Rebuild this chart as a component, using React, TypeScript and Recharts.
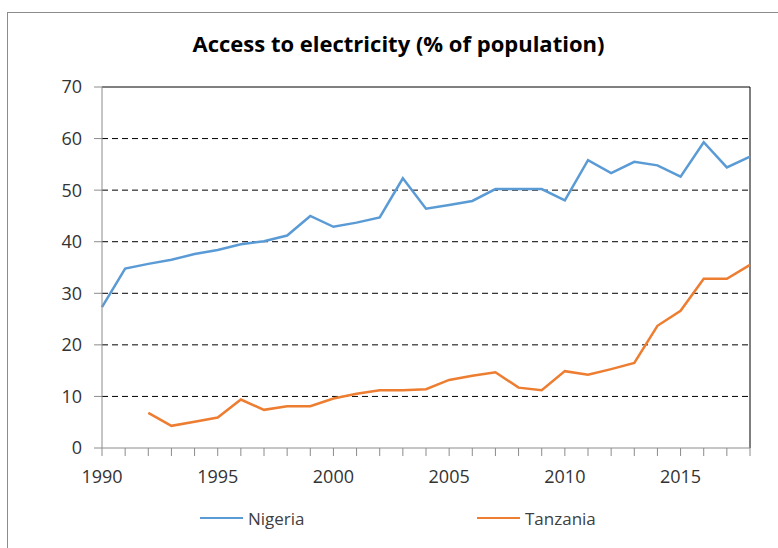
import React from 'react';
import {
  LineChart,
  Line,
  XAxis,
  YAxis,
  CartesianGrid,
  Legend,
  ReferenceLine,
} from 'recharts';

const years = [
  1990, 1991, 1992, 1993, 1994, 1995, 1996, 1997, 1998, 1999,
  2000, 2001, 2002, 2003, 2004, 2005, 2006, 2007, 2008, 2009,
  2010, 2011, 2012, 2013, 2014, 2015, 2016, 2017, 2018,
];

const nigeria = [
  27.3, 34.8, 35.7, 36.5, 37.6, 38.4, 39.5, 40.1, 41.2, 45.0,
  42.9, 43.7, 44.7, 52.3, 46.4, 47.1, 47.9, 50.2, 50.2, 50.2,
  48.0, 55.8, 53.3, 55.5, 54.8, 52.6, 59.3, 54.4, 56.5,
];

const tanzania = [
  null, null, 6.8, 4.3, 5.1, 5.9, 9.4, 7.4, 8.1, 8.1,
  9.6, 10.5, 11.2, 11.2, 11.4, 13.2, 14.0, 14.7, 11.7, 11.2,
  14.9, 14.2, 15.3, 16.5, 23.7, 26.6, 32.8, 32.8, 35.5,
];

const yTicks = [0, 10, 20, 30, 40, 50, 60, 70];

const chartData = years.map((year, i) => ({
  year,
  Nigeria: nigeria[i],
  Tanzania: tanzania[i],
}));

const FONT = '"Open Sans", sans-serif';
const BLUE = '#5b9bd5';
const ORANGE = '#ed7d31';

// legend items are placed relative to the legend wrapper, which starts at margin.left
const LegendContent = () => (
  <div style={{ position: 'relative', height: 20, fontFamily: FONT, fontSize: 17, color: '#404040' }}>
    {[
      { name: 'Nigeria', color: BLUE, x: 158 },
      { name: 'Tanzania', color: ORANGE, x: 435 },
    ].map((item) => (
      <div
        key={item.name}
        style={{ position: 'absolute', left: item.x, top: 0, height: 20, display: 'flex', alignItems: 'center' }}
      >
        <span style={{ display: 'inline-block', width: 43, height: 2, background: item.color, marginRight: 5 }} />
        <span>{item.name}</span>
      </div>
    ))}
  </div>
);

export default function App() {
  return (
    <div style={{ position: 'absolute', left: 0, top: 0, width: 778, height: 548, overflow: 'hidden', background: '#fff' }}>
      <div
        style={{
          position: 'absolute',
          left: 7,
          top: 12,
          width: 800,
          height: 600,
          border: '1px solid #8c8c8c',
          boxSizing: 'border-box',
        }}
      />
      <div
        style={{
          position: 'absolute',
          left: 0,
          top: 28,
          width: 797,
          textAlign: 'center',
          fontFamily: FONT,
          fontWeight: 700,
          fontSize: 22,
          lineHeight: 'normal',
          color: '#000',
        }}
      >
        Access to electricity (% of population)
      </div>
      <div style={{ position: 'absolute', left: 0, top: 0 }}>
        <LineChart width={778} height={548} data={chartData} margin={{ top: 87, right: 28, left: 42, bottom: 20 }}>
          <CartesianGrid
            horizontal
            vertical={false}
            stroke="#000"
            strokeDasharray="6 4"
            horizontalValues={[10, 20, 30, 40, 50, 60]}
          />
          <XAxis
            dataKey="year"
            type="number"
            domain={[1990, 2018]}
            ticks={years}
            interval={0}
            tickFormatter={(v: number) => (v % 5 === 0 ? String(v) : '')}
            height={60}
            tickSize={8}
            tickMargin={14}
            stroke="#8c8c8c"
            tick={{ fill: '#333', fontSize: 18, fontFamily: FONT }}
          />
          <YAxis
            domain={[0, 70]}
            ticks={yTicks}
            interval={0}
            width={60}
            tickSize={8}
            tickMargin={12}
            stroke="#8c8c8c"
            tick={{ fill: '#333', fontSize: 18, fontFamily: FONT }}
          />
          <ReferenceLine y={70} stroke="#000" strokeWidth={1} />
          <ReferenceLine x={2018} stroke="#000" strokeWidth={1} />
          <Line
            dataKey="Nigeria"
            stroke={BLUE}
            strokeWidth={2.5}
            dot={false}
            isAnimationActive={false}
          />
          <Line
            dataKey="Tanzania"
            stroke={ORANGE}
            strokeWidth={2.5}
            dot={false}
            isAnimationActive={false}
          />
          <Legend verticalAlign="bottom" content={<LegendContent />} />
        </LineChart>
      </div>
    </div>
  );
}
